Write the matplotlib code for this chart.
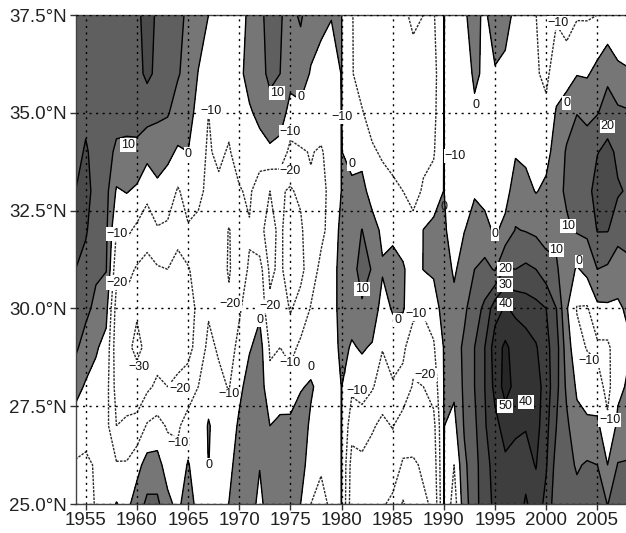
import numpy as np
import matplotlib
matplotlib.use("Agg")
import matplotlib.pyplot as plt

plt.rcParams['font.family'] = ['Liberation Sans', 'DejaVu Sans']

lats = [25, 26, 27, 28, 29, 30, 31, 32, 33, 34, 35, 36, 37.5]
years = list(range(1954, 2009))
anomaly_by_year = [
 [-15,-11,-4,3,12,17,20,23,20,17,17,17,16],        # 1954
 [-15,-12,-6,-1,5,13,17,21,24,21,18,18,17],
 [-9,-9,-6,-3,1,7,12,15,16,17,17,17,17],
 [-5,-8,-7,-6,-3,3,10.5,12,13,14,16,17,17],
 [0.5,-9,-20,-24,-26,-24,-17,-10,-1,8,14,16,16],
 [-3,-9,-19,-23,-28,-23,-17,-8,0.5,8,13,16,16],    # 1959
 [5,-3.5,-17,-26,-32,-29,-21,-12,-1.5,7,15,17,17],
 [12,4,-9,-22,-28,-29,-23,-16,-7,3,14,22,25],
 [12,4,-7,-18,-25,-27,-21,-11,-2,4,12,18,18],
 [3,-5,-11,-20,-24,-25,-20,-12,-4,2,11,16,16],
 [-3,-8,-11,-19,-22,-23,-21,-19,-11,-1,5,11,13],   # 1964
 [7,1,-7,-14,-24,-24,-21,-11,-6,0,3.5,6,8],
 [-5,-7,-8,-10,-15,-18,-15,-11,-9,-7,-3,-0.3,4],
 [-4,0.2,1,-5,-8,-11,-11,-11,-11,-11,-10,-5,0],
 [-6,-5,-5,-8,-11,-15,-15,-15,-12,-8,-5,-2,-1],
 [0.2,-3,-7,-10.5,-13,-18,-21,-20.5,-13,-11,-7,-3,-2],  # 1969
 [6,5,2,-3,-8,-11,-14,-15,-11,-5,-3,-2,-2],
 [5,7,8,5,-1,-6,-9,-11,-8,-5,-1,3,1],
 [-3,0.5,3,6,4,-2,-6,-18,-17,-3,2,7,8],
 [6,6,0,-8,-11,-18,-22,-23,-20,-2,7,12,13],
 [8,8,2,-5,-10,-13,-18,-18,-19,-3,4,10,10.5],      # 1974
 [8,8,2.5,-6,-13,-21,-26,-26,-21,-13,-3,3,8],
 [0,5,6,-1,-8,-16,-23,-22,-18,-11,-3,6,11],
 [-10,-6,-2,1.5,-7,-9.5,-14,-12,-11,-9.5,-3,-1,6],
 [-15,-8,-5,-4,-4,-5,-8,-12,-13,-11,-5,-4,3],
 [-7,-6,-5,-6,-6,-6,-6,-7,-7,-6,-5,-3,0.3],        # 1979
 [0.2,0.2,0.2,0.2,3,5,5,3,0.2,0.2,0.2,0.2,0.2],
 [-26,-24,-16,-8,-1,4,7,6,2,-3,-7,-9.5,-9.5],
 [-28,-22,-16,-5,1,9,13,10.2,3,-3,-9.5,-13,-14],
 [-30,-24,-19,-9,-1,6,9.5,4,-4,-9,-13,-15,-15],
 [-29,-25,-22,-15,-9.5,-4,1,-2,-7,-11,-15,-17,-16], # 1984
 [-32,-25,-19.5,-11,-6,1,3,-2,-8,-13,-17,-18,-18],
 [-41,-31,-25,-13,-8,1,1,-4,-10,-14,-18,-20,-19],
 [-35,-31,-26,-21,-16,-7,-4,-7,-13,-16,-19,-18,-21],
 [-31,-29,-25,-20,-14,-9,0.2,0.2,-9,-12,-16,-17,-20],
 [-29,-26,-23,-16,-11,-6,2,3,-6,-11,-13,-14,-11],  # 1989
 [0.2,0.2,0.2,0.2,0.5,5,7,2,0.2,0.2,0.2,0.2,0.2],
 [-15,-10,-3,2,5,4,-2,-6,-7,-9,-9,-7,-3],
 [6,8,11,12,12,8,6,-0.3,-5,-5,-4,-3,-1],
 [16,16,18,20,20,16,10,4,-1,-4,-1,1,3],
 [26,27,29,30,30,22,13,3,-3,-5,-3,-1,-2],          # 1994
 [32,33,37,43,45,36,9,-1.5,-5,-7,-5,-1,6],
 [35,38,44,54,52,41,21,3,-4,-7,-6,-2,3],
 [35,36,42,47,46,38,20,10.5,5,-1,-6,-5,-2],
 [41,37,40.5,47,45,35,22,9.5,3,-2,-6,-6,-5],
 [36,40.5,44,45,41,33,20,8,-0.5,-6,-9.5,-9,-9.9],  # 1999
 [27,31,33,35,33,30,14,6,2,-3,-8,-12,-14],
 [14,16,20,23,24,20,11,8,8,4,1,-5,-11],
 [14,13,12,8,5,1,5,9,11,11,6,-5,-14],
 [13,9,3,-1.5,-7,-10.5,-1,11,15,14,9.8,-0.5,-11],
 [12,11,2,-5,-10.5,-11,3,12,16,14,8,-1,-11],       # 2004
 [12,10,2,-6,-12,-2,10,20.5,25,19.5,9.5,3,-10],
 [9.9,0,-8,-13,-12,-1.5,8.5,20.5,27,23,14,8,-8],
 [12,10.5,2,-2,-4,-1,3,15,21,18,12,2,-7],
 [12,11,3,1,-1,1,8,13,19,17,11,1,-8],              # 2008
]
neg_levels = [-40, -30, -20, -10]
pos_levels = [0, 10, 20, 30, 40, 50]
fill_colors = ['white', '#767676', '#5f5f5f', '#4b4b4b', '#3e3e3e', '#333333', '#262626']
xticks = list(range(1955, 2006, 5))
yticks = [25, 27.5, 30, 32.5, 35, 37.5]
ylabels = ['25.0°N', '27.5°N', '30.0°N', '32.5°N', '35.0°N', '37.5°N']
M = '\u2212'
label_x = [1959.1,1965,1967.2,1973.7,1976,1975,1975,1958.1,1958.1,1969.1,1973,1972,1960.2,1964.2,1969,1975,1977,
           1964,1967,1980,1981,1991.1,1993.1,2001.2,2002,2006,1995,2002.1,2001,2003.2,1996,1996,1996,1982,1985.5,
           1987.3,2004.2,1988.2,1981.5,1996,1998,2006.2]
label_y = [34.17,33.95,35.05,35.5,35.4,34.5,33.5,31.9,30.65,30.1,30.05,29.7,28.5,27.95,27.8,28.6,28.5,
           26.55,26,34.9,33.7,33.9,35.2,37.3,35.25,34.65,31.9,32.1,31.5,31.2,31,30.6,30.1,30.5,29.7,
           29.85,28.65,28.3,27.9,27.5,27.6,27.15]
label_t = ['10','0',M+'10','10','0',M+'10',M+'20',M+'10',M+'20',M+'20',M+'20','0',M+'30',M+'20',M+'10',M+'10','0',
           M+'10','0',M+'10','0',M+'10','0',M+'10','0','20','0','10','10','0','20','30','40','10','0',
           M+'10',M+'10',M+'20',M+'10','50','40',M+'10']
spike_x = [1980, 1990]
spike_y = [28.35, 32.6]
spike_t = ['0', '0']

Z = np.array(anomaly_by_year, dtype=float).T
fig = plt.figure(figsize=(6.26, 5.33), dpi=100)
ax = fig.add_axes([75.5/626, 1-504/533, (626-75.5)/626, (504-15)/533])
ax.contourf(years, lats, Z, levels=[-100] + pos_levels + [100], colors=fill_colors)
ax.contour(years, lats, Z, levels=neg_levels, colors='#2a2a2a', linewidths=1.0, linestyles=[(0, (1.8, 0.9))])
ax.contour(years, lats, Z, levels=pos_levels, colors='black', linewidths=1.0, linestyles='solid')
ax.set_xlim(1954, 2007.8)
ax.set_ylim(25, 37.5)
ax.set_xticks(xticks)
ax.set_yticks(yticks)
ax.set_yticklabels(ylabels)
ax.tick_params(labelsize=13.5, length=4, width=1, pad=2, color='#333333', labelcolor='#222222')
ax.grid(True, color='black', linestyle=(0, (1.5, 3.2)), linewidth=1.0)
ax.set_axisbelow(False)
for s in ['left', 'bottom', 'top']:
    ax.spines[s].set_color('#444444')
    ax.spines[s].set_linewidth(1.0)
ax.spines['right'].set_visible(False)
for x, y, t in zip(label_x, label_y, label_t):
    ax.text(x, y, t, fontsize=9, ha='center', va='center', color='#111111', zorder=6,
            bbox=dict(facecolor='white', edgecolor='none', pad=0.6))
for x, y, t in zip(spike_x, spike_y, spike_t):
    ax.text(x, y, t, fontsize=9, ha='center', va='center', color='#111111', zorder=6)
fig.savefig('out.png', dpi=100)
